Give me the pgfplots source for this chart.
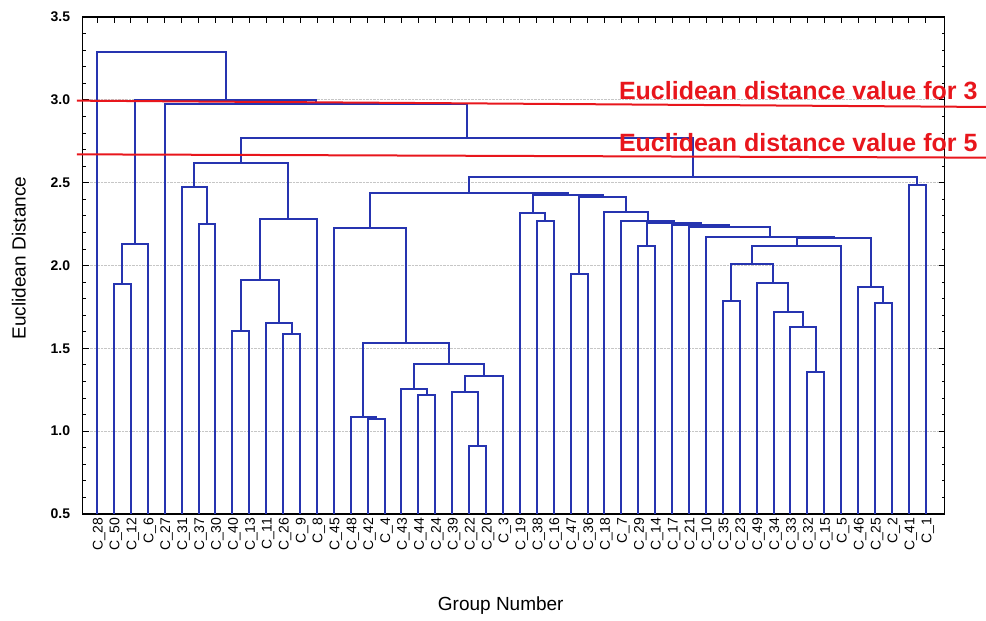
\documentclass[border=0pt]{standalone}
\usepackage{fontspec}
\setmainfont{Liberation Sans}
\usepackage{pgfplots}
\pgfplotsset{compat=1.18}
\definecolor{dblue}{RGB}{38,52,176}
\definecolor{dred}{RGB}{232,22,28}
\pgfplotsset{lnk/.style={color=dblue, line width=2pt, solid, mark=none}}
\begin{document}
\begin{tikzpicture}
\path[use as bounding box] (0,0) rectangle (986pt,621pt);
\begin{axis}[
  at={(82.7pt,107pt)}, anchor=south west, scale only axis,
  width=862pt, height=497pt,
  xmin=-0.85, xmax=50.12, ymin=0.5, ymax=3.5,
  clip=false,
  xtick={0,...,49},
  xticklabels={C\_28,C\_50,C\_12,C\_6,C\_27,C\_31,C\_37,C\_30,C\_40,C\_13,C\_11,C\_26,C\_9,C\_8,C\_45,C\_48,C\_42,C\_4,C\_43,C\_44,C\_24,C\_39,C\_22,C\_20,C\_3,C\_19,C\_38,C\_16,C\_47,C\_36,C\_18,C\_7,C\_29,C\_14,C\_17,C\_21,C\_10,C\_35,C\_23,C\_49,C\_34,C\_33,C\_32,C\_15,C\_5,C\_46,C\_25,C\_2,C\_41,C\_1},
  xticklabel style={rotate=90, anchor=east, font=\fontsize{14}{16}\selectfont, yshift=-2pt},
  ytick={0.5,1.0,1.5,2.0,2.5,3.0,3.5},
  minor y tick num=4,
  /pgf/number format/assume math mode=true,
  yticklabel={\pgfmathprintnumber[fixed,fixed zerofill,precision=1]{\tick}},
  yticklabel style={font=\fontsize{14}{16}\selectfont\bfseries, xshift=-9pt},
  tick align=inside,
  major tick length=6pt, minor tick length=3pt,
  tick style={black, line width=0.8pt},
  ymajorgrids,
  grid style={densely dotted, gray!45, line width=0.8pt},
  axis line style={black, line width=1.4pt},
  xlabel={Group Number},
  ylabel={Euclidean Distance},
  xlabel style={at={(axis description cs:0.485,-0.185)}, anchor=center, font=\fontsize{19}{22}\selectfont},
  ylabel style={at={(axis description cs:-0.074,0.515)}, anchor=center, font=\fontsize{19}{22}\selectfont},
]
% dendrogram links: (x_left,h_left) (x_left,h) (x_right,h) (x_right,h_right)
\addplot[lnk] coordinates {(1,0.5)(1,1.89)(2,1.89)(2,0.5)};
\addplot[lnk] coordinates {(1.5,1.89)(1.5,2.13)(3,2.13)(3,0.5)};
\addplot[lnk] coordinates {(6,0.5)(6,2.25)(7,2.25)(7,0.5)};
\addplot[lnk] coordinates {(5,0.5)(5,2.475)(6.5,2.475)(6.5,2.25)};
\addplot[lnk] coordinates {(8,0.5)(8,1.605)(9,1.605)(9,0.5)};
\addplot[lnk] coordinates {(11,0.5)(11,1.587)(12,1.587)(12,0.5)};
\addplot[lnk] coordinates {(10,0.5)(10,1.653)(11.5,1.653)(11.5,1.587)};
\addplot[lnk] coordinates {(8.5,1.605)(8.5,1.91)(10.75,1.91)(10.75,1.653)};
\addplot[lnk] coordinates {(9.625,1.91)(9.625,2.28)(13,2.28)(13,0.5)};
\addplot[lnk] coordinates {(5.75,2.475)(5.75,2.62)(11.3125,2.62)(11.3125,2.28)};
\addplot[lnk] coordinates {(16,0.5)(16,1.074)(17,1.074)(17,0.5)};
\addplot[lnk] coordinates {(15,0.5)(15,1.086)(16.5,1.086)(16.5,1.074)};
\addplot[lnk] coordinates {(19,0.5)(19,1.219)(20,1.219)(20,0.5)};
\addplot[lnk] coordinates {(18,0.5)(18,1.255)(19.5,1.255)(19.5,1.219)};
\addplot[lnk] coordinates {(22,0.5)(22,0.911)(23,0.911)(23,0.5)};
\addplot[lnk] coordinates {(21,0.5)(21,1.237)(22.5,1.237)(22.5,0.911)};
\addplot[lnk] coordinates {(21.75,1.237)(21.75,1.333)(24,1.333)(24,0.5)};
\addplot[lnk] coordinates {(18.75,1.255)(18.75,1.406)(22.875,1.406)(22.875,1.333)};
\addplot[lnk] coordinates {(15.75,1.086)(15.75,1.533)(20.8125,1.533)(20.8125,1.406)};
\addplot[lnk] coordinates {(14,0.5)(14,2.227)(18.28,2.227)(18.28,1.533)};
\addplot[lnk] coordinates {(26,0.5)(26,2.27)(27,2.27)(27,0.5)};
\addplot[lnk] coordinates {(25,0.5)(25,2.315)(26.5,2.315)(26.5,2.27)};
\addplot[lnk] coordinates {(28,0.5)(28,1.949)(29,1.949)(29,0.5)};
\addplot[lnk] coordinates {(32,0.5)(32,2.115)(33,2.115)(33,0.5)};
\addplot[lnk] coordinates {(37,0.5)(37,1.786)(38,1.786)(38,0.5)};
\addplot[lnk] coordinates {(42,0.5)(42,1.358)(43,1.358)(43,0.5)};
\addplot[lnk] coordinates {(41,0.5)(41,1.63)(42.5,1.63)(42.5,1.358)};
\addplot[lnk] coordinates {(40,0.5)(40,1.72)(41.75,1.72)(41.75,1.63)};
\addplot[lnk] coordinates {(39,0.5)(39,1.895)(40.875,1.895)(40.875,1.72)};
\addplot[lnk] coordinates {(37.5,1.786)(37.5,2.01)(39.94,2.01)(39.94,1.895)};
\addplot[lnk] coordinates {(38.72,2.01)(38.72,2.12)(44,2.12)(44,0.5)};
\addplot[lnk] coordinates {(46,0.5)(46,1.774)(47,1.774)(47,0.5)};
\addplot[lnk] coordinates {(45,0.5)(45,1.87)(46.5,1.87)(46.5,1.774)};
\addplot[lnk] coordinates {(41.36,2.12)(41.36,2.165)(45.75,2.165)(45.75,1.87)};
\addplot[lnk] coordinates {(36,0.5)(36,2.175)(43.555,2.175)(43.555,2.165)};
\addplot[lnk] coordinates {(35,0.5)(35,2.23)(39.78,2.23)(39.78,2.175)};
\addplot[lnk] coordinates {(34,0.5)(34,2.245)(37.39,2.245)(37.39,2.23)};
\addplot[lnk] coordinates {(32.5,2.115)(32.5,2.255)(35.695,2.255)(35.695,2.245)};
\addplot[lnk] coordinates {(31,0.5)(31,2.27)(34.1,2.27)(34.1,2.255)};
\addplot[lnk] coordinates {(30,0.5)(30,2.32)(32.55,2.32)(32.55,2.27)};
\addplot[lnk] coordinates {(28.5,1.949)(28.5,2.415)(31.275,2.415)(31.275,2.32)};
\addplot[lnk] coordinates {(25.75,2.315)(25.75,2.425)(29.89,2.425)(29.89,2.415)};
\addplot[lnk] coordinates {(16.14,2.227)(16.14,2.435)(27.82,2.435)(27.82,2.425)};
\addplot[lnk] coordinates {(48,0.5)(48,2.487)(49,2.487)(49,0.5)};
\addplot[lnk] coordinates {(21.98,2.435)(21.98,2.535)(48.5,2.535)(48.5,2.487)};
\addplot[lnk] coordinates {(8.53,2.62)(8.53,2.77)(35.24,2.77)(35.24,2.535)};
\addplot[lnk] coordinates {(4,0.5)(4,2.975)(21.885,2.975)(21.885,2.77)};
\addplot[lnk] coordinates {(2.25,2.13)(2.25,3.0)(12.94,3.0)(12.94,2.975)};
\addplot[lnk] coordinates {(0,0.5)(0,3.29)(7.595,3.29)(7.595,3.0)};
% cut-off lines
\addplot[color=dred, line width=2pt, solid, mark=none] coordinates {(-1.2,2.995)(52.55,2.957)};
\addplot[color=dred, line width=2pt, solid, mark=none] coordinates {(-1.2,2.671)(52.55,2.651)};
\node[anchor=base east, text=dred, font=\fontsize{25}{28}\selectfont\bfseries, inner sep=0pt] at (axis cs:52.07,3.0) {Euclidean distance value for 3};
\node[anchor=base east, text=dred, font=\fontsize{25}{28}\selectfont\bfseries, inner sep=0pt] at (axis cs:52.07,2.686) {Euclidean distance value for 5};
\end{axis}
\end{tikzpicture}
\end{document}
